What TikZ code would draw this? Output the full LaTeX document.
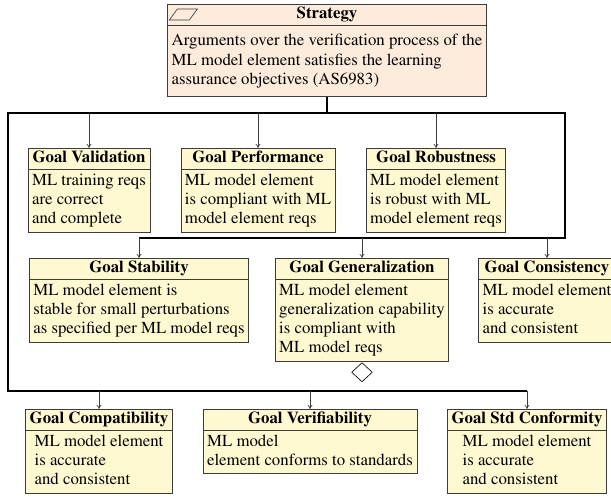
\documentclass[tikz,border=0pt]{standalone}
\usepackage[T1]{fontenc}
\usepackage{mathptmx}
\usetikzlibrary{arrows.meta, positioning, shapes.multipart, shapes.geometric}
\definecolor{goalyellow}{RGB}{255, 249, 210}
\definecolor{stratorange}{RGB}{253, 235, 219}
\definecolor{edgegray}{RGB}{60, 60, 60}

\newcommand{\goalhead}[1]{\textbf{#1}\vphantom{Gy}}
\newcommand{\goaltext}[1]{\begin{tabular}{@{}l@{}}#1\end{tabular}}

\tikzset{
  goalbox/.style={rectangle split, rectangle split parts=2, draw=edgegray, fill=goalyellow,
    font=\fontsize{10.5}{12}\selectfont, inner xsep=2.5pt, inner ysep=1.5pt, anchor=north},
  stratbox/.style={goalbox, fill=stratorange},
  bus/.style={draw=black, line width=1.1pt},
  link/.style={draw=edgegray, line width=0.4pt, -{To[length=2.5pt, width=3pt]}},
  undev/.style={diamond, draw=black, fill=white, inner sep=0pt, minimum width=13pt, minimum height=12pt}
}

\begin{document}
\begin{tikzpicture}[x=0.625pt, y=-0.625pt]
  \useasboundingbox (0,0) rectangle (611,497);

  \node[stratbox] (strat) at (327,4) {\goalhead{Strategy}
    \nodepart{two}\goaltext{\rule{0pt}{11.4pt}Arguments over the verification process of the\\
      ML model element satisfies the learning\\
      assurance objectives (AS6983)\rule[-6pt]{0pt}{0pt}}};
  \draw[edgegray] ([shift={(10,5)}]strat.north west) -- ++(20,0) -- ++(-8,11) -- ++(-20,0) -- cycle;

  \node[goalbox] (val) at (89,148) {\goalhead{Goal Validation}
    \nodepart{two}\goaltext{ML training reqs\\are correct\\and complete}};
  \node[goalbox] (perf) at (258,148) {\goalhead{Goal Performance}
    \nodepart{two}\goaltext{ML model element\\is compliant with ML\\model element reqs}};
  \node[goalbox] (rob) at (436,148) {\goalhead{Goal Robustness}
    \nodepart{two}\goaltext{ML model element\\is robust with ML\\model element reqs}};

  \node[goalbox] (stab) at (139,258) {\goalhead{Goal Stability}
    \nodepart{two}\goaltext{ML model element is\\stable for small perturbations\\as specified per ML model reqs}};
  \node[goalbox] (gen) at (362,258) {\goalhead{Goal Generalization}
    \nodepart{two}\goaltext{ML model element\\generalization capability\\is compliant with\\ML model reqs}};
  \node[goalbox] (cons) at (547,258) {\goalhead{Goal Consistency}
    \nodepart{two}\goaltext{ML model element\\is accurate\\and consistent}};
  \node[undev, below=0.5pt of gen] (genund) {};

  \node[goalbox] (comp) at (99,409) {\goalhead{Goal Compatibility}
    \nodepart{two}\goaltext{ML model element\\is accurate\\and consistent}};
  \node[goalbox] (verif) at (310,409) {\goalhead{Goal Verifiability}
    \nodepart{two}\goaltext{ML model\\element conforms to standards}};
  \node[goalbox] (conf) at (527,409) {\goalhead{Goal Std Conformity}
    \nodepart{two}\goaltext{ML model element\\is accurate\\and consistent}};

  \coordinate (topbus) at (8,113);
  \coordinate (midbus) at (565,238);
  \coordinate (lowbus) at (8,391);

  \draw[bus] (strat.south) -- (strat.south |- topbus);
  \draw[bus] (conf.north |- lowbus) -- (lowbus) -- (topbus) -- (midbus |- topbus) -- (midbus) -- (stab.north |- midbus);

  \foreach \g in {val, perf, rob}
    \draw[link] (\g.north |- topbus) -- (\g.north);
  \foreach \g in {stab, gen, cons}
    \draw[link] (\g.north |- midbus) -- (\g.north);
  \foreach \g in {comp, verif, conf}
    \draw[link] (\g.north |- lowbus) -- (\g.north);
\end{tikzpicture}
\end{document}
